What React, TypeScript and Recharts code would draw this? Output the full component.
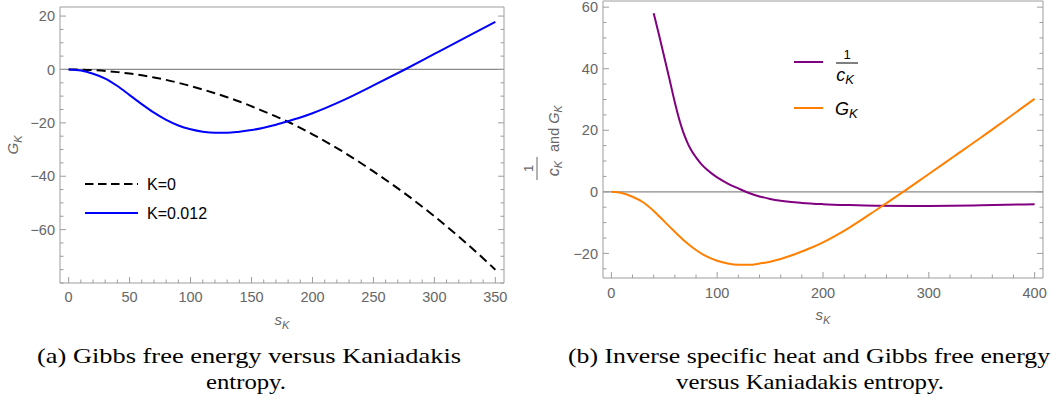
import React from 'react';
import { LineChart, Line, XAxis, YAxis, ReferenceLine, Legend } from 'recharts';

// panel (a): Gibbs free energy vs Kaniadakis entropy
const entropyA = [0, 10, 20, 30, 40, 50, 60, 70, 80, 90, 100, 110, 120, 130, 140, 150, 160, 170, 180, 190, 200, 225, 250, 275, 300, 325, 350];
const gibbsKappa0 = [0, -0.06, -0.25, -0.55, -1.0, -1.55, -2.2, -3.0, -3.9, -5.0, -6.2, -7.5, -8.9, -10.4, -12.0, -13.8, -15.7, -17.6, -19.6, -21.9, -24.3, -30.8, -38.2, -46.2, -55.0, -64.6, -75];
const gibbsKappa012 = [0, -0.4, -1.6, -3.4, -6.2, -9.6, -13.0, -16.2, -18.9, -21.0, -22.4, -23.3, -23.7, -23.7, -23.3, -22.7, -21.8, -20.7, -19.4, -18.0, -16.4, -11.6, -6.0, -0.2, 5.8, 11.8, 17.8];

// panel (b): inverse specific heat and Gibbs free energy
const entropyB = [0, 10, 20, 30, 40, 50, 60, 70, 80, 90, 100, 110, 120, 130, 140, 150, 160, 170, 180, 190, 200, 225, 250, 275, 300, 325, 350, 375, 400];
const gibbsB = [0, -0.4, -1.6, -3.4, -6.2, -9.6, -13.0, -16.2, -18.9, -21.0, -22.4, -23.3, -23.7, -23.7, -23.3, -22.7, -21.8, -20.7, -19.4, -18.0, -16.4, -11.6, -6.0, -0.2, 5.8, 11.8, 17.8, 24.0, 30.2];
const entropyHeat = [40, 45, 50, 55, 60, 62.5, 65, 67.5, 70, 72.5, 75, 77.5, 80, 85, 90, 95, 100, 110, 120, 130, 140, 150, 160, 180, 200, 225, 250, 300, 350, 400];
const inverseHeat = [58, 51, 43.8, 36.5, 29, 25.6, 22.5, 19.8, 17.5, 15.5, 13.8, 12.4, 11.2, 9.0, 7.3, 5.9, 4.7, 2.7, 1.1, -0.4, -1.5, -2.3, -2.9, -3.6, -4.0, -4.3, -4.5, -4.6, -4.4, -4.0];

// tick labels
const majorXA = [0, 50, 100, 150, 200, 250, 300, 350];
const majorYA = [-60, -40, -20, 0, 20];
const majorXB = [0, 100, 200, 300, 400];
const majorYB = [-20, 0, 20, 40, 60];

const steps = (from: number, to: number, step: number) => {
  const out: number[] = [];
  for (let v = from; v <= to; v += step) out.push(v);
  return out;
};

const rowsK0 = entropyA.map((s, i) => ({ s, g: gibbsKappa0[i] }));
const rowsK012 = entropyA.map((s, i) => ({ s, g: gibbsKappa012[i] }));
const rowsGB = entropyB.map((s, i) => ({ s, g: gibbsB[i] }));
const rowsHeat = entropyHeat.map((s, i) => ({ s, g: inverseHeat[i] }));

const frameColor = '#9d9d9d';
const labelColor = '#666';
const sans = 'Liberation Sans, Arial, sans-serif';
const serif = 'Liberation Serif, serif';
const fmt = (v: number) => (v < 0 ? `\u2212${Math.abs(v)}` : `${v}`);

const bottomTick = (majors: number[], dy: number) => (p: any) => {
  const major = majors.includes(p.payload.value);
  return (
    <g>
      <line x1={p.x} x2={p.x} y1={p.y} y2={p.y - (major ? 6 : 3.5)} stroke={frameColor} />
      {major && (
        <text x={p.x} y={p.y + dy} textAnchor="middle" fill={labelColor} fontSize={14.5} fontFamily={sans}>
          {fmt(p.payload.value)}
        </text>
      )}
    </g>
  );
};

const topTick = (majors: number[]) => (p: any) => {
  const major = majors.includes(p.payload.value);
  return <line x1={p.x} x2={p.x} y1={p.y} y2={p.y + (major ? 6 : 3.5)} stroke={frameColor} />;
};

const leftTick = (majors: number[]) => (p: any) => {
  const major = majors.includes(p.payload.value);
  return (
    <g>
      <line x1={p.x} x2={p.x + (major ? 6 : 3.5)} y1={p.y} y2={p.y} stroke={frameColor} />
      {major && (
        <text x={p.x - 5} y={p.y} dy="0.36em" textAnchor="end" fill={labelColor} fontSize={14.5} fontFamily={sans}>
          {fmt(p.payload.value)}
        </text>
      )}
    </g>
  );
};

const rightTick = (majors: number[]) => (p: any) => {
  const major = majors.includes(p.payload.value);
  return <line x1={p.x} x2={p.x - (major ? 6 : 3.5)} y1={p.y} y2={p.y} stroke={frameColor} />;
};

const XTitle = (props: any) => {
  const { x, y, width } = props.viewBox;
  return (
    <text x={x + width / 2} y={y + 42} textAnchor="middle" fill={labelColor} fontSize={15} fontFamily={sans}>
      <tspan fontStyle="italic">s</tspan>
      <tspan fontStyle="italic" fontSize={11} dy={4}>K</tspan>
    </text>
  );
};

const GTitle = () => (
  <text transform="translate(18,145) rotate(-90)" textAnchor="middle" fill={labelColor} fontSize={15} fontFamily={sans}>
    <tspan fontStyle="italic">G</tspan>
    <tspan fontStyle="italic" fontSize={11} dy={4}>K</tspan>
  </text>
);

const HeatTitle = () => (
  <g transform="translate(31,140) rotate(-90)" fill={labelColor} fontFamily={sans}>
    <text x={-28.5} y={-13} textAnchor="middle" fontSize={13}>1</text>
    <line x1={-40} x2={-17} y1={-9} y2={-9} stroke={labelColor} strokeWidth={1} />
    <text x={-28.5} y={13} textAnchor="middle" fontSize={16}>
      <tspan fontStyle="italic">c</tspan>
      <tspan fontStyle="italic" fontSize={11} dy={3}>K</tspan>
    </text>
    <text x={-12} y={13} fontSize={14.5}>
      and <tspan fontStyle="italic">G</tspan>
      <tspan fontStyle="italic" fontSize={10.5} dy={3}>K</tspan>
    </text>
  </g>
);

const LegendA = () => (
  <svg width={130} height={60} style={{ display: 'block' }}>
    <line x1={2} x2={55} y1={12} y2={12} stroke="#000" strokeWidth={2} strokeDasharray="8.5 4.5" />
    <text x={64} y={18} fontSize={16} fontFamily={sans} fill="#000">K=0</text>
    <line x1={2} x2={55} y1={41} y2={41} stroke="#0000ff" strokeWidth={2} />
    <text x={64} y={47} fontSize={16} fontFamily={sans} fill="#000">K=0.012</text>
  </svg>
);

const LegendB = () => (
  <svg width={110} height={90} style={{ display: 'block' }}>
    <line x1={4} x2={33} y1={22} y2={22} stroke="#800080" strokeWidth={2} />
    <text x={57} y={19} textAnchor="middle" fontSize={13} fontFamily={sans} fill="#000">1</text>
    <line x1={46} x2={68} y1={23} y2={23} stroke="#000" strokeWidth={1} />
    <text x={55} y={41} textAnchor="middle" fontSize={18} fontFamily={sans} fill="#000">
      <tspan fontStyle="italic">c</tspan>
      <tspan fontStyle="italic" fontSize={13} dy={3}>K</tspan>
    </text>
    <line x1={4} x2={33} y1={68} y2={68} stroke="#ff8000" strokeWidth={2} />
    <text x={45} y={75} fontSize={18} fontFamily={sans} fill="#000">
      <tspan fontStyle="italic">G</tspan>
      <tspan fontStyle="italic" fontSize={13} dy={3}>K</tspan>
    </text>
  </svg>
);

// caption lines: centre x, baseline y, rendered width
const captionLines = [
  { text: '(a) Gibbs free energy versus Kaniadakis', cx: 249, y: 363, w: 424 },
  { text: 'entropy.', cx: 246, y: 389, w: 80 },
  { text: '(b) Inverse specific heat and Gibbs free energy', cx: 809, y: 363, w: 482 },
  { text: 'versus Kaniadakis entropy.', cx: 810, y: 389, w: 268 },
];

export default function App() {
  return (
    <div style={{ position: 'absolute', left: 0, top: 0, width: 1063, height: 405, background: '#fff' }}>
      <div style={{ position: 'absolute', left: 0, top: 0 }}>
        <LineChart width={530} height={340} margin={{ top: 6, right: 25, bottom: 7, left: 10 }}>
          <XAxis
            dataKey="s"
            type="number"
            domain={[-7.1, 357.1]}
            ticks={steps(0, 350, 10)}
            interval={0}
            height={50}
            tickSize={0}
            tickMargin={0}
            tickLine={false}
            axisLine={{ stroke: frameColor }}
            tick={bottomTick(majorXA, 18.5)}
            label={<XTitle />}
          />
          <XAxis
            xAxisId="top"
            orientation="top"
            dataKey="s"
            type="number"
            domain={[-7.1, 357.1]}
            ticks={steps(0, 350, 10)}
            interval={0}
            height={1}
            tickSize={0}
            tickMargin={0}
            tickLine={false}
            axisLine={{ stroke: frameColor }}
            tick={topTick(majorXA)}
          />
          <YAxis
            type="number"
            domain={[-80, 23.4]}
            allowDataOverflow
            ticks={steps(-80, 20, 5)}
            interval={0}
            width={50}
            tickSize={0}
            tickMargin={0}
            tickLine={false}
            axisLine={{ stroke: frameColor }}
            tick={leftTick(majorYA)}
            label={<GTitle />}
          />
          <YAxis
            yAxisId="right"
            orientation="right"
            type="number"
            domain={[-80, 23.4]}
            allowDataOverflow
            ticks={steps(-80, 20, 5)}
            interval={0}
            width={1}
            tickSize={0}
            tickMargin={0}
            tickLine={false}
            axisLine={{ stroke: frameColor }}
            tick={rightTick(majorYA)}
          />
          <ReferenceLine y={0} stroke="#8a8a8a" strokeWidth={1.2} />
          <Line data={rowsK0} dataKey="g" type="monotone" stroke="#000" strokeWidth={2} strokeDasharray="9 5" dot={false} isAnimationActive={false} />
          <Line data={rowsK012} dataKey="g" type="monotone" stroke="#0000ff" strokeWidth={2} dot={false} isAnimationActive={false} />
          <Legend
            layout="vertical"
            align="center"
            verticalAlign="middle"
            content={<LegendA />}
            wrapperStyle={{ left: 83, top: 172, width: 130, height: 60 }}
          />
        </LineChart>
      </div>

      <div style={{ position: 'absolute', left: 515, top: 0 }}>
        <LineChart width={548} height={340} margin={{ top: 0, right: 19, bottom: 12, left: 28 }}>
          <XAxis
            dataKey="s"
            type="number"
            domain={[-7.9, 407.9]}
            ticks={steps(0, 400, 20)}
            interval={0}
            height={50}
            tickSize={0}
            tickMargin={0}
            tickLine={false}
            axisLine={{ stroke: frameColor }}
            tick={bottomTick(majorXB, 20)}
            label={<XTitle />}
          />
          <XAxis
            xAxisId="top"
            orientation="top"
            dataKey="s"
            type="number"
            domain={[-7.9, 407.9]}
            ticks={steps(0, 400, 20)}
            interval={0}
            height={1}
            tickSize={0}
            tickMargin={0}
            tickLine={false}
            axisLine={{ stroke: frameColor }}
            tick={topTick(majorXB)}
          />
          <YAxis
            type="number"
            domain={[-28, 62]}
            allowDataOverflow
            ticks={steps(-25, 60, 5)}
            interval={0}
            width={60}
            tickSize={0}
            tickMargin={0}
            tickLine={false}
            axisLine={{ stroke: frameColor }}
            tick={leftTick(majorYB)}
            label={<HeatTitle />}
          />
          <YAxis
            yAxisId="right"
            orientation="right"
            type="number"
            domain={[-28, 62]}
            allowDataOverflow
            ticks={steps(-25, 60, 5)}
            interval={0}
            width={1}
            tickSize={0}
            tickMargin={0}
            tickLine={false}
            axisLine={{ stroke: frameColor }}
            tick={rightTick(majorYB)}
          />
          <ReferenceLine y={0} stroke="#8a8a8a" strokeWidth={1.2} />
          <Line data={rowsHeat} dataKey="g" type="monotone" stroke="#800080" strokeWidth={2} dot={false} isAnimationActive={false} />
          <Line data={rowsGB} dataKey="g" type="monotone" stroke="#ff8000" strokeWidth={2} dot={false} isAnimationActive={false} />
          <Legend
            layout="vertical"
            align="center"
            verticalAlign="middle"
            content={<LegendB />}
            wrapperStyle={{ left: 275, top: 40, width: 110, height: 90 }}
          />
        </LineChart>
      </div>

      <svg width={1063} height={65} style={{ position: 'absolute', left: 0, top: 340 }}>
        {captionLines.map((c) => (
          <text
            key={c.text}
            x={c.cx - c.w / 2}
            y={c.y - 340}
            textLength={c.w}
            lengthAdjust="spacingAndGlyphs"
            fontFamily={serif}
            fontSize={21}
            fill="#000"
          >
            {c.text}
          </text>
        ))}
      </svg>
    </div>
  );
}
